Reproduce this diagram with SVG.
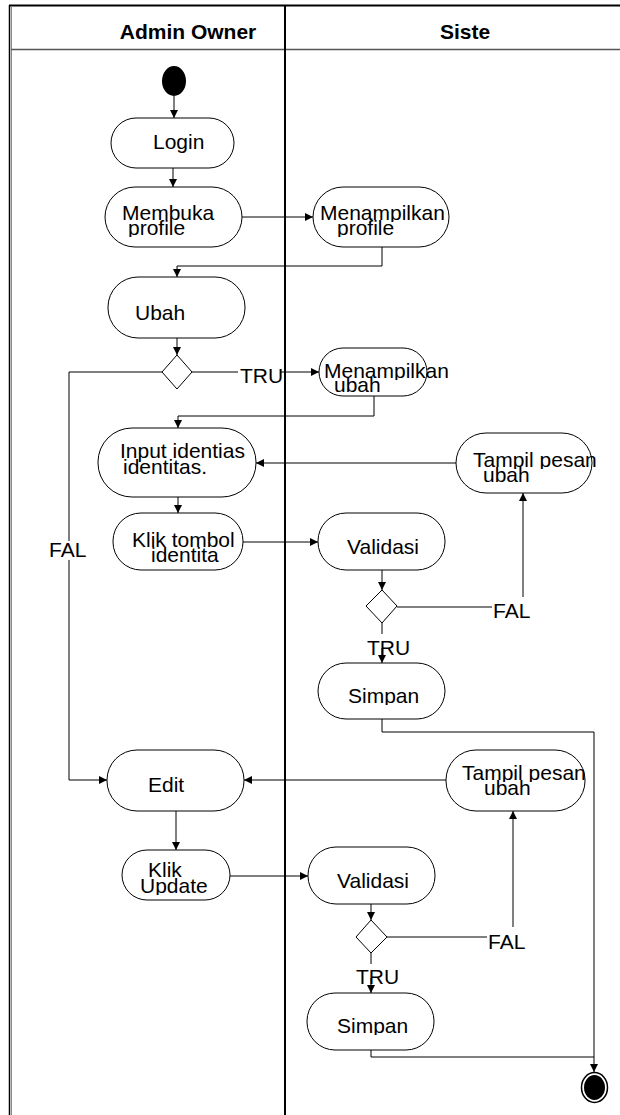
<svg xmlns="http://www.w3.org/2000/svg" width="620" height="1115" viewBox="0 0 620 1115">
<style>
.n{fill:#fff;stroke:#000;stroke-width:1}
.t{font-family:"Liberation Sans",Arial,sans-serif;font-size:21px;fill:#000}
.h{font-family:"Liberation Sans",Arial,sans-serif;font-size:21px;font-weight:bold;fill:#000}
.c{fill:none;stroke:#000;stroke-width:1}
.a{marker-end:url(#ah)}
</style>
<defs>
<marker id="ah" viewBox="0 0 10 10" refX="10" refY="5" markerWidth="8" markerHeight="8" markerUnits="userSpaceOnUse" orient="auto"><path d="M0,0 L10,5 L0,10 z" fill="#000"/></marker>
<clipPath id="k222"><rect x="0" y="0" width="620" height="222"/></clipPath>
<clipPath id="k237"><rect x="0" y="0" width="620" height="237"/></clipPath>
<clipPath id="k380"><rect x="0" y="0" width="620" height="380"/></clipPath>
<clipPath id="k469"><rect x="0" y="0" width="620" height="469"/></clipPath>
<clipPath id="k705"><rect x="0" y="0" width="620" height="705"/></clipPath>
<clipPath id="k782"><rect x="0" y="0" width="620" height="782"/></clipPath>
<clipPath id="k895"><rect x="0" y="0" width="620" height="895"/></clipPath>
<clipPath id="k1035"><rect x="0" y="0" width="620" height="1035"/></clipPath>
</defs>
<g id="frame">
<line x1="9" y1="5.5" x2="620" y2="5.5" stroke="#000" stroke-width="2"/>
<line x1="9.5" y1="5" x2="9.5" y2="1115" stroke="#000" stroke-width="1.5"/>
<line x1="11.5" y1="6" x2="11.5" y2="1115" stroke="#888" stroke-width="1"/>
<line x1="11" y1="49.5" x2="620" y2="49.5" stroke="#555" stroke-width="1.5"/>
<line x1="285" y1="5" x2="285" y2="1115" stroke="#000" stroke-width="2"/>
<text class="h" x="188" y="39" text-anchor="middle">Admin Owner</text>
<text class="h" x="465" y="39" text-anchor="middle">Siste</text>
</g>
<g id="connectors">
<path class="c a" d="M174,96 V118"/>
<path class="c a" d="M173,168 V187"/>
<path class="c a" d="M242,217 H313"/>
<path class="c a" d="M382,247 V266 H177 V277"/>
<path class="c a" d="M177,338 V355"/>
<path class="c" d="M192,372 H238"/>
<path class="c a" d="M281,372 H319"/>
<path class="c" d="M162,372 H69 V541"/>
<path class="c a" d="M69,560 V780 H107"/>
<path class="c a" d="M374,396 V416 H178 V428"/>
<path class="c a" d="M456,463 H256"/>
<path class="c a" d="M178,497 V513"/>
<path class="c a" d="M243,542 H318"/>
<path class="c a" d="M382,570 V590"/>
<path class="c" d="M397,607 H492"/>
<path class="c a" d="M523,597 V493"/>
<path class="c" d="M382,623 V634"/>
<path class="c a" d="M382,648 V663"/>
<path class="c a" d="M382,719 V732 H594 V1072"/>
<path class="c a" d="M446,780 H244"/>
<path class="c a" d="M176,811 V850"/>
<path class="c a" d="M230,876 H308"/>
<path class="c a" d="M371,904 V920"/>
<path class="c" d="M387,937 H487"/>
<path class="c a" d="M513,927 V811"/>
<path class="c" d="M371,953 V964"/>
<path class="c a" d="M371,978 V993"/>
<path class="c" d="M371,1050 V1057 H594"/>
<text class="t" x="240" y="383">TRU</text>
<text class="t" x="49" y="557">FAL</text>
<text class="t" x="493" y="618">FAL</text>
<text class="t" x="367" y="655">TRU</text>
<text class="t" x="488" y="949">FAL</text>
<text class="t" x="356" y="984">TRU</text>
</g>
<g id="start"><ellipse cx="174" cy="81" rx="12" ry="15" fill="#000"/></g>
<g id="login"><rect class="n" x="111" y="118" width="123" height="50" rx="25"/><text class="t" x="153" y="149">Login</text></g>
<g id="membuka"><rect class="n" x="105" y="187" width="137" height="60" rx="30"/><text class="t" x="122" y="220" clip-path="url(#k222)">Membuka</text><text class="t" x="128" y="235" clip-path="url(#k237)">profile</text></g>
<g id="menampilkan-profile"><rect class="n" x="313" y="187" width="136" height="60" rx="30"/><text class="t" x="320" y="220" clip-path="url(#k222)">Menampilkan</text><text class="t" x="337" y="235" clip-path="url(#k237)">profile</text></g>
<g id="ubah"><rect class="n" x="108" y="277" width="137" height="61" rx="30"/><text class="t" x="135" y="320">Ubah</text></g>
<g id="decision1"><polygon class="n" points="177,355 192,372 177,389 162,372"/></g>
<g id="menampilkan-ubah"><rect class="n" x="319" y="348" width="108" height="48" rx="24"/><text class="t" x="324" y="378" clip-path="url(#k380)">Menampilkan</text><text class="t" x="334" y="392">ubah</text></g>
<g id="input"><rect class="n" x="98" y="428" width="158" height="69" rx="34"/><text class="t" x="120" y="458">Input identias</text><text class="t" x="123" y="474">identitas.</text></g>
<g id="tampil1"><rect class="n" x="456" y="433" width="136" height="60" rx="30"/><text class="t" x="473" y="467" clip-path="url(#k469)">Tampil pesan</text><text class="t" x="483" y="482">ubah</text></g>
<g id="klik-tombol"><rect class="n" x="113" y="513" width="130" height="57" rx="28"/><text class="t" x="132" y="547">Klik tombol</text><text class="t" x="151" y="562">identita</text></g>
<g id="validasi1"><rect class="n" x="318" y="513" width="127" height="57" rx="28"/><text class="t" x="347" y="554">Validasi</text></g>
<g id="decision2"><polygon class="n" points="382,590 397,606 382,623 366,606"/></g>
<g id="simpan1"><rect class="n" x="318" y="663" width="127" height="56" rx="28"/><text class="t" x="348" y="703" clip-path="url(#k705)">Simpan</text></g>
<g id="edit"><rect class="n" x="107" y="750" width="137" height="61" rx="30"/><text class="t" x="148" y="792">Edit</text></g>
<g id="tampil2"><rect class="n" x="446" y="750" width="139" height="61" rx="30"/><text class="t" x="462" y="780" clip-path="url(#k782)">Tampil pesan</text><text class="t" x="484" y="795">ubah</text></g>
<g id="klik-update"><rect class="n" x="122" y="850" width="108" height="50" rx="25"/><text class="t" x="148" y="877">Klik</text><text class="t" x="140" y="893" clip-path="url(#k895)">Update</text></g>
<g id="validasi2"><rect class="n" x="308" y="847" width="127" height="57" rx="28"/><text class="t" x="337" y="888">Validasi</text></g>
<g id="decision3"><polygon class="n" points="371,920 387,937 371,953 356,937"/></g>
<g id="simpan2"><rect class="n" x="307" y="993" width="127" height="57" rx="28"/><text class="t" x="337" y="1033" clip-path="url(#k1035)">Simpan</text></g>
<g id="end"><ellipse cx="594.5" cy="1087.5" rx="13" ry="15" fill="#fff" stroke="#000" stroke-width="1.5"/><ellipse cx="594.5" cy="1087.5" rx="10.5" ry="12.5" fill="#000"/></g>
</svg>
